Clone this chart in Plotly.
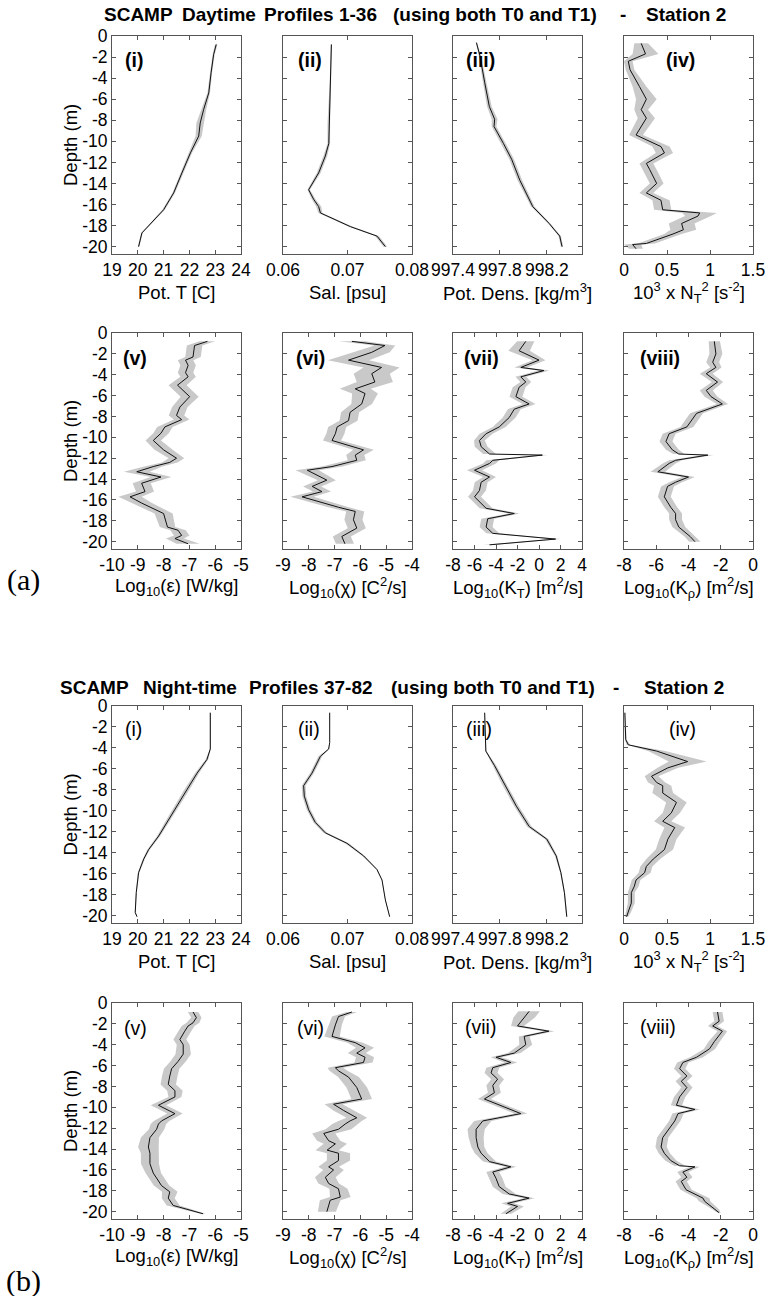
import plotly.graph_objects as go

W, H = 767, 1296

# ---------------- DATA (depth in m, positive down) ----------------
# (a) Daytime
dT_day = [0.8, 1.75, 3.5, 5.4, 7.0, 8.25, 9.5, 11.1, 13.0, 14.9, 16.5, 17.8, 18.7, 20.0]
T_day = [23.04, 22.94, 22.84, 22.75, 22.55, 22.42, 22.36, 22.04, 21.71, 21.39, 21.0, 20.49, 20.16, 20.03]
T_day_w = [0.05, 0.04, 0.04, 0.05, 0.1, 0.15, 0.12, 0.06, 0.06, 0.05, 0.05, 0.04, 0.03, 0.03]

dS_day = [0.8, 4.4, 8.25, 10.2, 11.4, 13.0, 14.6, 15.5, 16.2, 16.8, 18.1, 19.0, 20.0]
S_day = [0.0675, 0.06734, 0.0671, 0.0671, 0.06656, 0.06553, 0.06398, 0.06475, 0.06553, 0.0658, 0.07044, 0.07457, 0.07587]
S_day_w = [0.0001, 0.0001, 0.0002, 0.0002, 0.0003, 0.0003, 0.0002, 0.0003, 0.0004, 0.0003, 0.0003, 0.0003, 0.0003]

dR_day = [0.63, 1.9, 4.4, 6.7, 7.9, 8.6, 10.2, 11.7, 13.7, 16.2, 17.8, 19.0, 20.0]
R_day = [997.6, 997.63, 997.67, 997.71, 997.755, 997.75, 997.83, 997.9, 997.97, 998.08, 998.22, 998.31, 998.33]
R_day_w = [0.005, 0.01, 0.015, 0.02, 0.025, 0.02, 0.02, 0.02, 0.02, 0.015, 0.01, 0.01, 0.01]

dN_day = [0.7, 1.7, 2.4, 3.2, 4.8, 6.0, 7.0, 7.8, 9.4, 10.5, 11.1, 12.1, 12.7, 14.0, 14.9, 15.6, 16.5, 16.8, 17.1, 17.8, 18.4, 18.8, 19.7, 19.8, 20.2]
N_day = [0.2, 0.25, 0.05, 0.07, 0.18, 0.26, 0.2, 0.26, 0.14, 0.43, 0.47, 0.26, 0.3, 0.38, 0.26, 0.43, 0.45, 0.88, 0.86, 0.67, 0.69, 0.57, 0.26, 0.1, 0.14]
N_day_w = [0.08, 0.15, 0.05, 0.05, 0.08, 0.12, 0.08, 0.1, 0.08, 0.1, 0.1, 0.08, 0.08, 0.08, 0.08, 0.1, 0.1, 0.2, 0.15, 0.15, 0.15, 0.1, 0.1, 0.1, 0.08]

dE_day = [0.8, 1.2, 2.3, 2.6, 3.1, 3.8, 4.2, 5.0, 6.1, 7.1, 7.9, 8.3, 9.0, 9.6, 10.3, 11.2, 12.0, 12.4, 12.8, 13.3, 13.8, 14.4, 15.2, 15.7, 16.3, 17.3, 18.6, 18.9, 19.4, 19.7, 20.2]
E_day = [-6.3, -6.8, -6.86, -7.15, -7.05, -7.15, -7.05, -7.46, -6.99, -7.37, -7.5, -7.3, -7.95, -8.1, -8.4, -8.0, -7.5, -7.76, -8.4, -9.04, -8.1, -8.85, -8.72, -9.3, -8.85, -8.0, -7.85, -7.44, -7.3, -7.56, -7.05]
E_day_w = [0.3, 0.3, 0.3, 0.3, 0.3, 0.3, 0.3, 0.35, 0.35, 0.3, 0.3, 0.3, 0.3, 0.3, 0.3, 0.35, 0.3, 0.3, 0.35, 0.5, 0.4, 0.35, 0.35, 0.45, 0.4, 0.35, 0.3, 0.3, 0.3, 0.35, 0.45]

dC_day = [0.8, 1.2, 1.85, 2.6, 3.3, 3.9, 4.7, 5.35, 5.8, 6.8, 7.6, 8.4, 9.0, 9.65, 10.3, 11.2, 11.7, 12.2, 12.8, 13.15, 14.1, 14.7, 15.2, 15.7, 16.7, 17.1, 17.9, 18.7, 19.5, 20.2]
C_day = [-6.33, -5.05, -5.56, -6.46, -5.18, -5.56, -5.44, -6.2, -5.82, -5.95, -6.4, -6.46, -6.9, -6.97, -7.1, -5.88, -6.2, -6.14, -7.1, -8.06, -7.3, -7.87, -7.49, -8.26, -6.85, -6.2, -6.27, -6.14, -6.72, -6.6]
C_day_w = [0.5, 0.4, 0.7, 0.8, 0.7, 0.7, 0.7, 0.6, 0.5, 0.4, 0.35, 0.35, 0.35, 0.35, 0.35, 0.4, 0.35, 0.35, 0.4, 0.45, 0.35, 0.35, 0.35, 0.45, 0.4, 0.35, 0.35, 0.35, 0.35, 0.35]

dKT_day = [0.8, 1.7, 2.6, 3.3, 3.6, 4.2, 4.7, 5.2, 6.1, 6.8, 7.3, 8.1, 9.0, 9.65, 10.3, 10.9, 11.6, 11.7, 12.2, 12.5, 13.15, 13.8, 14.3, 15.1, 15.7, 16.8, 17.3, 17.8, 18.6, 19.2, 19.75, 20.3]
KT_day = [-1.23, -1.85, 0.0, -1.69, 0.46, -1.69, -1.23, -1.85, -2.15, -0.92, -2.3, -2.77, -3.7, -4.92, -5.54, -5.38, -4.6, 0.31, -4.3, -4.6, -6.0, -4.6, -5.38, -5.54, -6.0, -4.92, -2.3, -4.77, -4.92, -4.3, 1.54, -4.6]
KT_day_w = [0.8, 1.0, 0.6, 0.6, 0.5, 0.5, 0.5, 0.6, 0.6, 0.6, 0.6, 0.6, 0.6, 0.6, 0.5, 0.6, 0.6, 0.5, 0.6, 0.6, 0.7, 0.6, 0.6, 0.6, 0.6, 0.6, 0.5, 0.6, 0.6, 0.6, 0.5, 0.6]

dKR_day = [0.8, 2.0, 2.8, 3.3, 3.9, 4.7, 5.5, 6.1, 6.8, 7.7, 9.0, 9.65, 10.4, 11.2, 11.6, 11.7, 12.2, 12.5, 13.3, 13.8, 14.3, 14.7, 15.7, 16.7, 17.3, 17.9, 18.6, 19.5, 20.0]
KR_day = [-2.4, -2.3, -2.5, -2.3, -2.9, -2.2, -2.9, -2.6, -1.9, -3.5, -4.1, -5.2, -5.4, -5.0, -4.6, -2.8, -4.8, -5.2, -5.9, -4.0, -4.8, -5.3, -5.5, -5.1, -4.8, -4.8, -4.6, -3.9, -3.6]
KR_day_w = [0.35, 0.4, 0.4, 0.35, 0.4, 0.35, 0.4, 0.4, 0.35, 0.4, 0.4, 0.4, 0.4, 0.4, 0.35, 0.35, 0.4, 0.4, 0.45, 0.4, 0.4, 0.4, 0.4, 0.4, 0.4, 0.4, 0.4, 0.35, 0.35]

# (b) Night-time
dT_ngt = [0.64, 4.1, 5.1, 6.4, 8.0, 9.55, 11.1, 12.4, 13.7, 14.6, 15.9, 17.8, 19.7, 20.1]
T_ngt = [22.81, 22.81, 22.68, 22.3, 21.9, 21.52, 21.13, 20.81, 20.42, 20.23, 20.03, 19.94, 19.9, 19.97]
T_ngt_w = [0.02, 0.02, 0.05, 0.08, 0.1, 0.1, 0.08, 0.06, 0.05, 0.04, 0.03, 0.02, 0.02, 0.02]

dS_ngt = [0.64, 3.5, 4.1, 4.8, 6.4, 7.6, 8.6, 9.9, 11.1, 12.1, 13.1, 14.3, 15.6, 16.6, 18.5, 20.1]
S_ngt = [0.06724, 0.06724, 0.06708, 0.06579, 0.0645, 0.0632, 0.0633, 0.06398, 0.065, 0.06656, 0.06992, 0.0725, 0.07457, 0.07535, 0.07587, 0.07654]
S_ngt_w = [0.00005, 0.00005, 0.0001, 0.0003, 0.0003, 0.0003, 0.0003, 0.0003, 0.0003, 0.0003, 0.0003, 0.0002, 0.0001, 0.00005, 0.00005, 0.00005]

dR_ngt = [0.64, 4.3, 5.7, 7.3, 9.55, 11.5, 12.7, 14.3, 15.9, 17.8, 20.1]
R_ngt = [997.67, 997.68, 997.755, 997.83, 997.94, 998.05, 998.2, 998.28, 998.32, 998.35, 998.37]
R_ngt_w = [0.003, 0.005, 0.015, 0.02, 0.02, 0.02, 0.015, 0.01, 0.006, 0.005, 0.005]

dN_ngt = [0.64, 3.2, 3.7, 4.3, 5.3, 5.9, 6.7, 7.3, 7.6, 8.3, 9.2, 10.2, 11.0, 11.6, 12.7, 13.7, 14.6, 15.3, 15.9, 16.6, 17.2, 17.8, 18.8, 19.7, 20.1]
N_ngt = [0.01, 0.02, 0.05, 0.38, 0.74, 0.51, 0.32, 0.38, 0.45, 0.45, 0.61, 0.55, 0.45, 0.59, 0.51, 0.47, 0.34, 0.26, 0.24, 0.14, 0.12, 0.085, 0.085, 0.05, 0.03]
N_ngt_w = [0.005, 0.01, 0.02, 0.1, 0.22, 0.12, 0.08, 0.1, 0.1, 0.12, 0.12, 0.1, 0.1, 0.12, 0.1, 0.1, 0.08, 0.07, 0.07, 0.05, 0.05, 0.04, 0.04, 0.03, 0.02]

dE_ngt = [0.86, 1.4, 1.9, 2.2, 2.7, 3.5, 4.0, 4.9, 5.6, 6.3, 7.0, 7.8, 8.4, 9.0, 9.8, 10.6, 11.3, 11.6, 12.1, 12.9, 13.8, 14.4, 15.4, 16.3, 17.5, 18.1, 18.7, 19.4, 20.2]
E_ngt = [-6.86, -6.73, -6.86, -7.05, -7.18, -7.37, -7.24, -7.24, -7.44, -7.69, -7.76, -7.82, -7.56, -7.56, -8.2, -7.56, -8.08, -8.2, -8.27, -8.53, -8.59, -8.53, -8.53, -8.4, -8.08, -7.76, -7.82, -7.63, -6.47]
E_ngt_w = [0.2, 0.2, 0.25, 0.25, 0.25, 0.25, 0.25, 0.3, 0.3, 0.3, 0.3, 0.3, 0.3, 0.25, 0.3, 0.3, 0.3, 0.3, 0.3, 0.35, 0.4, 0.35, 0.35, 0.3, 0.3, 0.3, 0.25, 0.25, 0.1]

dC_ngt = [0.86, 1.3, 2.1, 3.2, 3.8, 4.3, 4.8, 5.2, 5.7, 6.2, 6.5, 7.1, 8.1, 9.2, 9.7, 10.3, 11.0, 11.3, 11.6, 12.1, 12.5, 13.2, 13.5, 14.1, 14.4, 15.1, 15.7, 16.0, 16.7, 17.3, 17.8, 18.6, 18.9, 20.0]
C_ngt = [-6.33, -6.85, -6.97, -7.1, -6.2, -5.82, -6.14, -5.82, -5.88, -6.97, -6.85, -6.46, -6.14, -5.95, -7.04, -6.65, -6.14, -6.4, -6.59, -6.85, -7.42, -7.23, -6.97, -7.29, -6.85, -6.85, -7.23, -7.04, -7.36, -7.23, -6.85, -6.78, -7.17, -7.3]
C_ngt_w = [0.2, 0.25, 0.25, 0.3, 0.3, 0.35, 0.35, 0.35, 0.35, 0.3, 0.35, 0.4, 0.4, 0.4, 0.35, 0.4, 0.4, 0.45, 0.5, 0.5, 0.45, 0.45, 0.45, 0.45, 0.45, 0.45, 0.4, 0.4, 0.4, 0.4, 0.35, 0.4, 0.4, 0.35]

dKT_ngt = [0.8, 1.4, 2.2, 2.7, 3.2, 4.0, 4.8, 5.2, 5.7, 6.2, 6.7, 7.3, 7.9, 8.6, 9.2, 10.6, 11.3, 12.1, 12.9, 13.8, 14.4, 15.2, 15.7, 16.2, 16.8, 17.6, 18.3, 18.7, 19.2, 19.5, 20.2]
KT_ngt = [-0.92, -1.38, -2.0, 0.92, -1.38, -1.23, -2.3, -4.0, -2.62, -4.3, -4.46, -3.85, -4.3, -4.15, -5.08, -1.69, -5.23, -5.85, -5.85, -5.69, -5.38, -4.6, -2.62, -4.3, -4.0, -3.7, -2.77, -0.92, -2.92, -2.0, -3.08]
KT_ngt_w = [1.0, 1.0, 0.6, 0.5, 0.5, 0.6, 0.6, 0.5, 0.6, 0.6, 0.6, 0.6, 0.6, 0.6, 0.6, 0.6, 0.8, 0.8, 0.7, 0.6, 0.6, 0.6, 0.5, 0.6, 0.6, 0.6, 0.6, 0.5, 0.6, 0.6, 0.5]

dKR_ngt = [0.86, 1.75, 2.2, 2.7, 3.7, 4.4, 5.2, 5.7, 6.3, 7.0, 7.5, 8.1, 9.0, 9.8, 10.2, 10.6, 11.3, 12.1, 12.9, 13.8, 14.4, 15.1, 15.6, 15.7, 16.2, 16.7, 17.1, 17.9, 18.4, 18.7, 19.0, 19.8, 20.1]
KR_ngt = [-2.2, -2.1, -2.5, -1.9, -2.4, -2.7, -3.5, -4.35, -4.55, -4.1, -4.45, -4.1, -4.55, -4.75, -3.6, -4.65, -4.85, -5.2, -5.6, -5.7, -5.5, -5.1, -4.55, -3.6, -4.35, -4.1, -4.45, -4.15, -3.5, -3.1, -3.0, -2.3, -2.1]
KR_ngt_w = [0.3, 0.3, 0.3, 0.3, 0.35, 0.35, 0.4, 0.35, 0.35, 0.35, 0.35, 0.35, 0.35, 0.35, 0.3, 0.35, 0.35, 0.35, 0.35, 0.35, 0.35, 0.35, 0.35, 0.3, 0.35, 0.35, 0.35, 0.35, 0.4, 0.4, 0.35, 0.2, 0.1]

# axis tick labels
T_ticks = [19, 20, 21, 22, 23, 24]
S_ticks = [0.06, 0.07, 0.08]
R_ticks = [997.4, 997.8, 998.2]
N_ticks = [0, 0.5, 1, 1.5]
E_ticks = [-10, -9, -8, -7, -6, -5]
C_ticks = [-9, -8, -7, -6, -5, -4]
KT_ticks = [-8, -6, -4, -2, 0, 2, 4]
KR_ticks = [-8, -6, -4, -2, 0]
depth_ticks = [0, -2, -4, -6, -8, -10, -12, -14, -16, -18, -20]

# titles (pieces as spaced out in the original)
title_a_parts = ["SCAMP", "Daytime", "Profiles 1-36", "(using both T0 and T1)", "-", "Station 2"]
title_b_parts = ["SCAMP", "Night-time", "Profiles 37-82", "(using both T0 and T1)", "-", "Station 2"]

# ---------------- LAYOUT ----------------
col_px = [(112, 241), (283, 412), (453, 582), (624, 753)]
row_px = [(36, 254), (333, 549), (706, 923), (1003, 1219)]

def fmt(v):
    return '%g' % v

rows_spec = [
    [(dT_day, T_day, T_day_w, [19, 24], T_ticks, "Pot. T [C]"),
     (dS_day, S_day, S_day_w, [0.06, 0.08], S_ticks, "Sal. [psu]"),
     (dR_day, R_day, R_day_w, [997.4, 998.5], R_ticks, "Pot. Dens. [kg/m<sup>3</sup>]"),
     (dN_day, N_day, N_day_w, [0, 1.5], N_ticks, "10<sup>3</sup> x N<sub>T</sub><sup>2</sup> [s<sup>-2</sup>]")],
    [(dE_day, E_day, E_day_w, [-10, -5], E_ticks, "Log<sub>10</sub>(ε) [W/kg]"),
     (dC_day, C_day, C_day_w, [-9, -4], C_ticks, "Log<sub>10</sub>(χ) [C<sup>2</sup>/s]"),
     (dKT_day, KT_day, KT_day_w, [-8, 4], KT_ticks, "Log<sub>10</sub>(K<sub>T</sub>) [m<sup>2</sup>/s]"),
     (dKR_day, KR_day, KR_day_w, [-8, 0], KR_ticks, "Log<sub>10</sub>(K<sub>ρ</sub>) [m<sup>2</sup>/s]")],
    [(dT_ngt, T_ngt, T_ngt_w, [19, 24], T_ticks, "Pot. T [C]"),
     (dS_ngt, S_ngt, S_ngt_w, [0.06, 0.08], S_ticks, "Sal. [psu]"),
     (dR_ngt, R_ngt, R_ngt_w, [997.4, 998.5], R_ticks, "Pot. Dens. [kg/m<sup>3</sup>]"),
     (dN_ngt, N_ngt, N_ngt_w, [0, 1.5], N_ticks, "10<sup>3</sup> x N<sub>T</sub><sup>2</sup> [s<sup>-2</sup>]")],
    [(dE_ngt, E_ngt, E_ngt_w, [-10, -5], E_ticks, "Log<sub>10</sub>(ε) [W/kg]"),
     (dC_ngt, C_ngt, C_ngt_w, [-9, -4], C_ticks, "Log<sub>10</sub>(χ) [C<sup>2</sup>/s]"),
     (dKT_ngt, KT_ngt, KT_ngt_w, [-8, 4], KT_ticks, "Log<sub>10</sub>(K<sub>T</sub>) [m<sup>2</sup>/s]"),
     (dKR_ngt, KR_ngt, KR_ngt_w, [-8, 0], KR_ticks, "Log<sub>10</sub>(K<sub>ρ</sub>) [m<sup>2</sup>/s]")],
]

panel_labels = [["(i)", "(ii)", "(iii)", "(iv)"], ["(v)", "(vi)", "(vii)", "(viii)"],
                ["(i)", "(ii)", "(iii)", "(iv)"], ["(v)", "(vi)", "(vii)", "(viii)"]]
label_px = [[(134, 60), (310, 60), (480, 60), (680, 60)],
            [(135, 358), (310, 358), (481, 358), (660, 358)],
            [(133, 729), (309, 729), (479, 729), (682, 729)],
            [(135, 1028), (310, 1028), (480, 1027), (658, 1027)]]

FONT = "Liberation Sans, Arial, Helvetica, sans-serif"
BAND = "#c9c9c9"
AX = "#555555"
TICK_SIZE = 17.5
TITLE_SIZE = 18.5

fig = go.Figure()
layout = dict(width=W, height=H, margin=dict(l=0, r=0, t=0, b=0, autoexpand=False),
              template="none",
              paper_bgcolor="white", plot_bgcolor="white", showlegend=False,
              font=dict(family=FONT, size=TICK_SIZE, color="black"))
annotations = []

def px2x(p):
    return p / W

def px2y(p):
    return 1 - p / H

def ann(text, x, y, size, xanchor="center", angle=0, family=None):
    f = dict(size=size)
    if family:
        f["family"] = family
    annotations.append(dict(text=text, x=px2x(x), y=px2y(y), xref="paper", yref="paper",
                            showarrow=False, xanchor=xanchor, yanchor="middle",
                            textangle=angle, font=f, borderpad=0))

n = 0
for r in range(4):
    for c in range(4):
        n += 1
        d, m, w, xr, ticks, xtitle = rows_spec[r][c]
        xa = "x" if n == 1 else "x%d" % n
        ya = "y" if n == 1 else "y%d" % n
        hi = [mm + ww for mm, ww in zip(m, w)]
        lo = [mm - ww for mm, ww in zip(m, w)]
        yy = [-v for v in d]
        fig.add_trace(go.Scatter(x=hi + lo[::-1], y=yy + yy[::-1], fill="toself",
                                 fillcolor=BAND, line=dict(width=0), mode="lines",
                                 xaxis=xa, yaxis=ya, hoverinfo="skip"))
        fig.add_trace(go.Scatter(x=m, y=yy, mode="lines", line=dict(color="#111111", width=1),
                                 xaxis=xa, yaxis=ya))
        x0, x1 = col_px[c]
        t0, t1 = row_px[r]
        span = xr[1] - xr[0]
        eps = span * 1e-6
        layout["xaxis" if n == 1 else "xaxis%d" % n] = dict(
            domain=[px2x(x0), px2x(x1)], anchor=ya, range=[xr[0] - eps, xr[1] + eps],
            tickvals=ticks, ticktext=[fmt(t) for t in ticks], automargin=False,
            ticks="inside", ticklen=4, tickcolor=AX, showline=True, linecolor=AX, linewidth=1,
            mirror="ticks", showgrid=False, zeroline=False, tickfont=dict(size=TICK_SIZE),
            fixedrange=True)
        layout["yaxis" if n == 1 else "yaxis%d" % n] = dict(
            domain=[px2y(t1), px2y(t0)], anchor=xa, range=[-20.7, 0.0], automargin=False,
            tickvals=depth_ticks, ticktext=[fmt(t) for t in depth_ticks],
            showticklabels=(c == 0), ticks="inside", ticklen=4, tickcolor=AX,
            showline=True, linecolor=AX, linewidth=1, mirror="ticks",
            showgrid=False, zeroline=False, tickfont=dict(size=TICK_SIZE), fixedrange=True)
        ann(xtitle, (x0 + x1) / 2, t1 + 38, TITLE_SIZE)
        lx, ly = label_px[r][c]
        lab = panel_labels[r][c]
        if r < 2:
            lab = "<b>" + lab + "</b>"
        ann(lab, lx, ly, 19.5)
    t0, t1 = row_px[r]
    ann("Depth (m)", 70, (t0 + t1) / 2, TITLE_SIZE, angle=-90)

# main titles
for parts, ypx, xs in [(title_a_parts, 15, [103, 181, 263, 392, 623, 645]),
                       (title_b_parts, 687, [59, 142, 248, 390, 616, 643])]:
    for txt, xp in zip(parts, xs):
        ann("<b>" + txt + "</b>", xp, ypx, 19, xanchor=("center" if txt == "-" else "left"))

SERIF = "Liberation Serif, DejaVu Serif, serif"
ann("(a)", 23, 580, 30, family=SERIF)
ann("(b)", 23, 1281, 30, family=SERIF)

layout["annotations"] = annotations
fig.update_layout(**layout)
fig.write_html("out.html")
